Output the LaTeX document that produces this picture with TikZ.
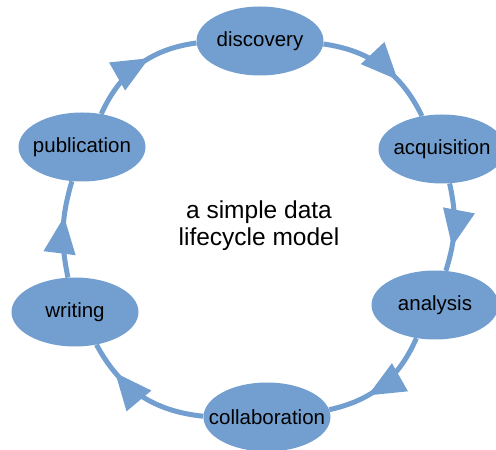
\documentclass[tikz,border=0pt]{standalone}
\usepackage{fontspec}
\setmainfont{Liberation Sans}
\usepackage{xcolor}
\usepackage{tikz}
\usetikzlibrary{shapes.geometric}
\usetikzlibrary{arrows.meta}
\usetikzlibrary{decorations.markings}
\definecolor{skyblue}{HTML}{729FCF}
\tikzset{
    stage/.style = {ellipse, fill=skyblue, draw=none, minimum width=127pt, minimum height=69pt, inner sep=0pt, inner xsep=-20pt, font=\fontsize{20.5}{24}\selectfont},
    flow/.style = {draw=skyblue, line width=5pt},
    tipat/.style = {postaction={decorate}, decoration={markings, mark=at position #1 with {\arrow[skyblue]{Triangle[length=37pt,width=31pt]}}}},
}

\begin{document}
\begin{tikzpicture}[x=1pt, y=1pt]
\useasboundingbox (0,0) rectangle (496,450);
\node[stage] at (260,409) (dis) {discovery};
\node[stage] at (442,301) (acq) {acquisition};
\node[stage] at (435,145) (ana) {analysis};
\node[stage] at (267,33) (col) {collaboration};
\node[stage] at (75,138) (wri) {writing};
\node[stage] at (82,303) (pub) {publication};
\node[align=center, font=\fontsize{24.5}{27}\selectfont] at (259,224) (title) {a simple data\\lifecycle model};
%
\draw[flow, tipat=0.66] (dis) to[bend left=28] (acq);
\draw[flow, tipat=0.72] (acq) to[bend left=15] (ana);
\draw[flow, tipat=0.65] (ana) to[bend left=27] (col);
%
\draw[flow, tipat=0.75] (col) to[bend left=28] (wri);
\draw[flow, tipat=0.63] (wri) to[bend left=14] (pub);
\draw[flow, tipat=0.6] (pub) to[bend left=29] (dis);
\end{tikzpicture}
\end{document}
